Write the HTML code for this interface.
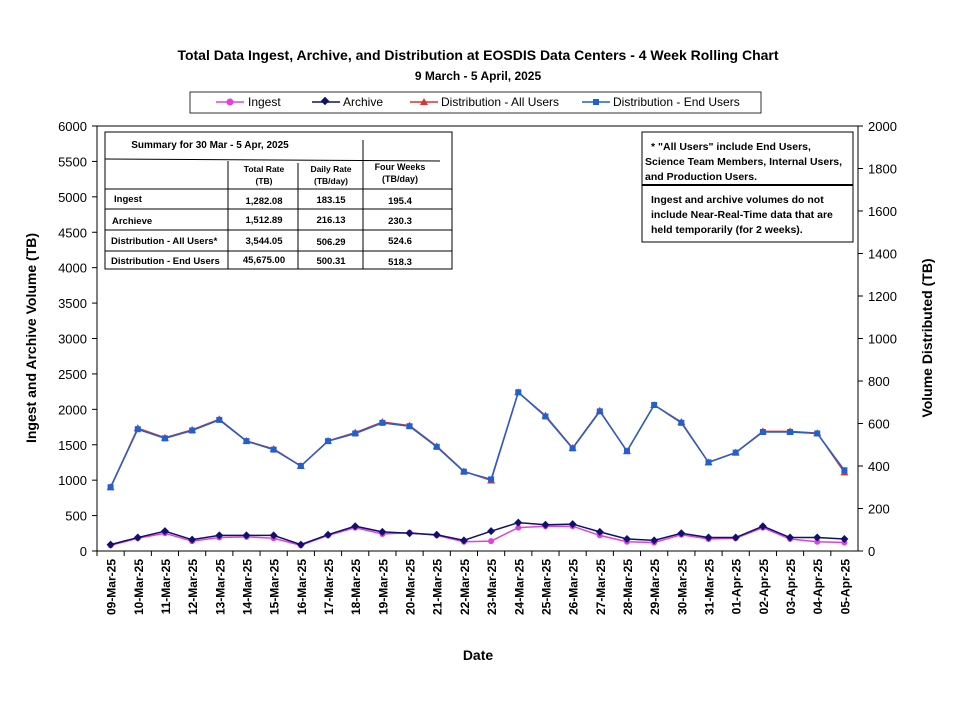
<!DOCTYPE html>
<html><head><meta charset="utf-8"><style>
body{margin:0;background:#fff;font-family:"Liberation Sans",sans-serif}
svg text{font-family:"Liberation Sans",sans-serif}
</style></head><body>
<svg id="c" width="955" height="717" xmlns="http://www.w3.org/2000/svg">
<text x="478" y="60" text-anchor="middle" font-size="14" font-weight="bold">Total Data Ingest, Archive, and  Distribution at EOSDIS Data Centers - 4 Week Rolling Chart</text>
<text x="478" y="80" text-anchor="middle" font-size="12" font-weight="bold">9 March  - 5 April, 2025</text>
<g>
<rect x="190" y="92" width="571" height="21" fill="#fff" stroke="#000" stroke-width="0.8"/>
<g><line x1="216" y1="102" x2="244" y2="102" stroke="#e040e0" stroke-width="1.5"/><circle cx="230" cy="102" r="3.5" fill="#e040e0"/><text x="248" y="106" font-size="12">Ingest</text></g>
<g><line x1="312" y1="102" x2="340" y2="102" stroke="#10106e" stroke-width="1.5"/><rect x="322" y="98" width="6" height="6" transform="rotate(45 325 101)" fill="#10106e"/><text x="343" y="106" font-size="12">Archive</text></g>
<g><line x1="410" y1="102" x2="438" y2="102" stroke="#e03030" stroke-width="1.5"/><path d="M424 98 L428 105 L420 105Z" fill="#e03030"/><text x="441" y="106" font-size="12">Distribution - All Users</text></g>
<g><line x1="582" y1="102" x2="610" y2="102" stroke="#2060d0" stroke-width="1.5"/><rect x="593" y="99" width="6" height="6" fill="#2060d0"/><text x="613" y="106" font-size="12">Distribution - End Users</text></g>
</g>
<rect x="97" y="126" width="761" height="425" fill="none" stroke="#000" stroke-width="1"/>
<g id="axes"></g>
<g id="marks"></g>
<g font-weight="bold" font-size="9.5">
<rect x="105" y="132" width="347" height="137" fill="#fff" stroke="#000"/>
<line x1="363" y1="140" x2="363" y2="160" stroke="#000"/>
<line x1="105" y1="159" x2="440" y2="161" stroke="#000"/>
<line x1="228" y1="161" x2="228" y2="269" stroke="#000"/>
<line x1="298" y1="163" x2="298" y2="269" stroke="#000"/>
<line x1="363" y1="161" x2="363" y2="269" stroke="#000"/>
<line x1="105" y1="189" x2="452" y2="189" stroke="#000"/>
<line x1="105" y1="209" x2="452" y2="209" stroke="#000"/>
<line x1="105" y1="230" x2="452" y2="230" stroke="#000"/>
<line x1="105" y1="251" x2="452" y2="251" stroke="#000"/>
<text x="210" y="148" text-anchor="middle" font-size="10">Summary  for  30  Mar   - 5  Apr,  2025</text>
<text x="264" y="172" text-anchor="middle" font-size="8.5">Total Rate</text><text x="264" y="184" text-anchor="middle" font-size="8.5">(TB)</text>
<text x="331" y="172" text-anchor="middle" font-size="8.5">Daily Rate</text><text x="331" y="184" text-anchor="middle" font-size="8.5">(TB/day)</text>
<text x="400" y="170" text-anchor="middle" font-size="9">Four Weeks</text><text x="400" y="182" text-anchor="middle" font-size="9">(TB/day)</text>
<text x="114" y="202">Ingest</text><text x="264" y="204" text-anchor="middle">1,282.08</text><text x="331" y="203" text-anchor="middle">183.15</text><text x="400" y="204" text-anchor="middle">195.4</text>
<text x="112" y="224">Archieve</text><text x="264" y="223" text-anchor="middle">1,512.89</text><text x="331" y="223" text-anchor="middle">216.13</text><text x="400" y="224" text-anchor="middle">230.3</text>
<text x="111" y="244">Distribution - All Users*</text><text x="264" y="244" text-anchor="middle">3,544.05</text><text x="331" y="245" text-anchor="middle">506.29</text><text x="400" y="244" text-anchor="middle">524.6</text>
<text x="111" y="264">Distribution - End Users</text><text x="264" y="263" text-anchor="middle">45,675.00</text><text x="331" y="264" text-anchor="middle">500.31</text><text x="400" y="265" text-anchor="middle">518.3</text>
</g>
<g font-weight="bold" font-size="10.5">
<rect x="642" y="132" width="211" height="110" fill="#fff" stroke="#000"/>
<line x1="642" y1="185" x2="853" y2="185" stroke="#000" stroke-width="2"/>
<text x="651" y="150">* "All Users" include End Users,</text>
<text x="645" y="165">Science Team Members,  Internal Users,</text>
<text x="645" y="180">and Production Users.</text>
<text x="651" y="203">Ingest and archive volumes do not</text>
<text x="651" y="218">include Near-Real-Time data that are</text>
<text x="651" y="233">held temporarily (for 2 weeks).</text>
</g>
<text transform="translate(36 338) rotate(-90)" text-anchor="middle" font-size="14" font-weight="bold">Ingest and Archive Volume (TB)</text>
<text transform="translate(932 338) rotate(-90)" text-anchor="middle" font-size="14" font-weight="bold">Volume Distributed (TB)</text>
<text x="478" y="660" text-anchor="middle" font-size="14" font-weight="bold">Date</text>
</svg>
<script>
const dates=["09-Mar-25","10-Mar-25","11-Mar-25","12-Mar-25","13-Mar-25","14-Mar-25","15-Mar-25","16-Mar-25","17-Mar-25","18-Mar-25","19-Mar-25","20-Mar-25","21-Mar-25","22-Mar-25","23-Mar-25","24-Mar-25","25-Mar-25","26-Mar-25","27-Mar-25","28-Mar-25","29-Mar-25","30-Mar-25","31-Mar-25","01-Apr-25","02-Apr-25","03-Apr-25","04-Apr-25","05-Apr-25"];
const ingest=[80,180,250,140,190,200,180,80,220,330,240,260,220,130,140,330,350,350,220,130,120,230,170,180,330,170,130,120];
const archive=[90,190,280,160,220,220,220,90,230,350,270,250,230,150,280,400,370,380,270,170,150,250,190,190,350,190,190,170];
const distAll=[300,578,533,570,620,518,480,400,518,557,607,590,493,375,332,747,637,485,660,470,687,607,417,463,563,563,555,370];
const distEnd=[300,573,530,567,617,517,477,400,517,553,603,587,490,373,337,747,633,483,657,470,687,603,417,463,560,560,553,380];
const leftTicks=[0,500,1000,1500,2000,2500,3000,3500,4000,4500,5000,5500,6000];
const rightTicks=[0,200,400,600,800,1000,1200,1400,1600,1800,2000];
const L=97,R=858,T=126,B=551,NS="http://www.w3.org/2000/svg";
const x=i=>L+(R-L)/dates.length*(i+0.5);
const yL=v=>B-(B-T)*v/6000;
const yR=v=>B-(B-T)*v/2000;
function mk(tag,at,parent){const e=document.createElementNS(NS,tag);for(const k in at)e.setAttribute(k,at[k]);parent.appendChild(e);return e;}
const ax=document.getElementById('axes'),mg=document.getElementById('marks');
leftTicks.forEach(v=>{mk('line',{x1:L-5,x2:L,y1:yL(v),y2:yL(v),stroke:'#000'},ax);const t=mk('text',{x:L-10,y:yL(v)+5,'text-anchor':'end','font-size':13},ax);t.textContent=v;

});
rightTicks.forEach(v=>{mk('line',{x1:R,x2:R+5,y1:yR(v),y2:yR(v),stroke:'#000'},ax);const t=mk('text',{x:R+10,y:yR(v)+5,'font-size':13},ax);t.textContent=v;

});
dates.forEach((d,i)=>{const xx=L+(R-L)/dates.length*i;mk('line',{x1:xx,x2:xx,y1:B,y2:B+5,stroke:'#000'},ax);const t=mk('text',{transform:`translate(${x(i)+5} ${B+8}) rotate(-90)`,'text-anchor':'end','font-size':12,'font-weight':'bold'},ax);t.textContent=d;

});
function series(vals,yf,color,shape,name){
 const g=mk('g',{},mg);
 
 
 mk('polyline',{points:vals.map((v,i)=>x(i)+','+yf(v)).join(' '),fill:'none',stroke:color,'stroke-width':1.5},g);
 vals.forEach((v,i)=>{const cx=x(i),cy=yf(v);let m;
  if(shape==='circle')m=mk('circle',{cx,cy,r:3,fill:color},g);
  else if(shape==='diamond')m=mk('path',{d:`M${cx} ${cy-4}L${cx+4} ${cy}L${cx} ${cy+4}L${cx-4} ${cy}Z`,fill:color},g);
  else if(shape==='tri')m=mk('path',{d:`M${cx} ${cy-4}L${cx+4} ${cy+3}L${cx-4} ${cy+3}Z`,fill:color},g);
  else m=mk('rect',{x:cx-3,y:cy-3,width:6,height:6,fill:color},g);
  
  
 });
}
series(distAll,yR,'#e03030','tri','distribution-all-series');
series(distEnd,yR,'#2060d0','square','distribution-end-series');
series(ingest,yL,'#e040e0','circle','ingest-series');
series(archive,yL,'#10106e','diamond','archive-series');
</script>
</body></html>
